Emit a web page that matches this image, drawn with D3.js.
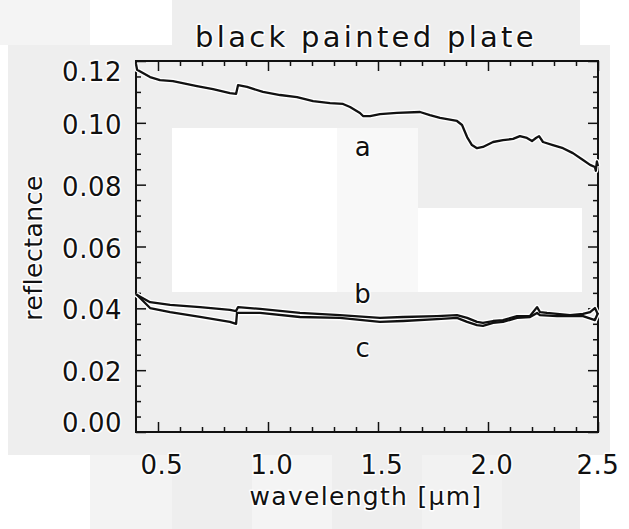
<!DOCTYPE html>
<html><head><meta charset="utf-8">
<script src="https://cdn.jsdelivr.net/npm/d3@7"></script>
<style>
html,body{margin:0;padding:0;background:#fff;}
svg{display:block;}
text{font-family:"DejaVu Sans",sans-serif;fill:#111;}
</style></head>
<body>
<script>
// ---- data ----
const title = "black painted plate";
const xLabel = "wavelength [\u03bcm]";
const yLabel = "reflectance";
const xTicks = [0.5, 1.0, 1.5, 2.0, 2.5];
const xTickLabels = ["0.5", "1.0", "1.5", "2.0", "2.5"];
const yTicks = [0.00, 0.02, 0.04, 0.06, 0.08, 0.10, 0.12];
const yTickLabels = ["0.00", "0.02", "0.04", "0.06", "0.08", "0.10", "0.12"];
const seriesNames = ["a", "b", "c"];
const labelPos = [[1.43, 0.0893], [1.43, 0.0417], [1.43, 0.0243]]; // wavelength, reflectance of curve tags (baseline)

const waveA = [0.40,0.405,0.464,0.509,0.568,0.677,0.750,0.827,0.855,0.864,0.905,0.977,1.055,1.132,1.205,1.282,1.341,1.373,1.418,1.432,1.464,1.509,1.586,1.691,1.736,1.782,1.859,1.882,1.905,1.927,1.950,1.977,2.023,2.068,2.114,2.145,2.177,2.200,2.218,2.232,2.250,2.295,2.341,2.386,2.432,2.464,2.486,2.490,2.495,2.50];
const reflA = [0.1190,0.1172,0.1148,0.1138,0.1135,0.1119,0.1109,0.1096,0.1094,0.1122,0.1116,0.1100,0.1090,0.1083,0.1070,0.1064,0.1061,0.1051,0.1032,0.1022,0.1022,0.1028,0.1032,0.1035,0.1025,0.1016,0.1006,0.0993,0.0954,0.0928,0.0918,0.0922,0.0938,0.0944,0.0948,0.0957,0.0951,0.0941,0.0951,0.0957,0.0938,0.0928,0.0918,0.0902,0.0880,0.0864,0.0857,0.0845,0.0875,0.0860];

const waveB = [0.40,0.405,0.464,0.555,0.691,0.827,0.855,0.864,0.964,1.145,1.327,1.509,1.614,1.768,1.859,1.905,1.950,1.977,2.023,2.068,2.132,2.191,2.223,2.236,2.268,2.314,2.373,2.432,2.464,2.486,2.50];
const reflB = [0.0446,0.0443,0.0420,0.0411,0.0404,0.0395,0.0391,0.0404,0.0398,0.0385,0.0378,0.0369,0.0372,0.0375,0.0378,0.0369,0.0356,0.0353,0.0359,0.0362,0.0375,0.0375,0.0404,0.0388,0.0385,0.0382,0.0378,0.0382,0.0388,0.0401,0.0380];

const waveC = [0.40,0.405,0.464,0.555,0.691,0.827,0.855,0.859,0.964,1.145,1.327,1.509,1.614,1.768,1.859,1.905,1.950,1.977,2.023,2.068,2.132,2.191,2.223,2.236,2.314,2.373,2.432,2.486,2.50];
const reflC = [0.0446,0.0443,0.0401,0.0388,0.0372,0.0356,0.0350,0.0385,0.0385,0.0372,0.0369,0.0356,0.0359,0.0365,0.0369,0.0356,0.0346,0.0343,0.0353,0.0356,0.0369,0.0372,0.0385,0.0378,0.0375,0.0375,0.0375,0.0362,0.0385];

// ---- layout ----
const W = 629, H = 529;
const L = 136, R = 598, T = 61, B = 432;

const svg = d3.select("body").append("svg").attr("width", W).attr("height", H);

// background (scan-like patches of the reference)
const bgBlocks = [
  [0,0,629,529,"#ffffff"],
  [8,45,602,410,"#eeeeee"],
  [0,0,90,45,"#f4f4f4"],
  [172,0,408,45,"#eeeeee"],
  [90,455,82,74,"#f3f3f3"],
  [172,455,80,74,"#eeeeee"],
  [252,455,80,74,"#f4f4f4"],
  [332,455,90,74,"#eeeeee"],
  [422,455,80,74,"#f2f2f2"],
  [502,455,78,74,"#eeeeee"],
  [172,128,165,164,"#ffffff"],
  [337,128,81,164,"#f8f8f8"],
  [418,208,164,84,"#ffffff"]
];
svg.selectAll("rect.bg").data(bgBlocks).join("rect").attr("class","bg")
  .attr("x", d => d[0]).attr("y", d => d[1]).attr("width", d => d[2]).attr("height", d => d[3])
  .attr("fill", d => d[4]);

const x = d3.scaleLinear().domain([0.4, 2.5]).range([L, R]);
const y = d3.scaleLinear().domain([0, 0.12]).range([B, T]);

const halo = sel => sel.attr("stroke", "#ffffff").attr("stroke-width", 3).attr("paint-order", "stroke").attr("stroke-linejoin", "round");

// axes with inward ticks (major + minor)
const xMinor = d3.range(0.5, 2.5001, 0.1).filter(v => Math.abs(v*2 - Math.round(v*2)) > 1e-6);
const yMinor = d3.range(0.005, 0.1200001, 0.005).filter(v => Math.abs(v/0.02 - Math.round(v/0.02)) > 1e-6);

function axisGroup(axisFn, tr) {
  const g = svg.append("g").attr("transform", tr).call(axisFn);
  g.selectAll("text").remove();
  g.select(".domain").remove();
  g.selectAll("line").attr("stroke", "#111").attr("stroke-width", 1.5);
  return g;
}
axisGroup(d3.axisBottom(x).tickValues(xTicks).tickSize(-10).tickFormat(""), `translate(0,${B})`);
axisGroup(d3.axisBottom(x).tickValues(xMinor).tickSize(-5).tickFormat(""), `translate(0,${B})`);
axisGroup(d3.axisTop(x).tickValues(xTicks).tickSize(-10).tickFormat(""), `translate(0,${T})`);
axisGroup(d3.axisTop(x).tickValues(xMinor).tickSize(-5).tickFormat(""), `translate(0,${T})`);
axisGroup(d3.axisLeft(y).tickValues(yTicks).tickSize(-10).tickFormat(""), `translate(${L},0)`);
axisGroup(d3.axisLeft(y).tickValues(yMinor).tickSize(-5).tickFormat(""), `translate(${L},0)`);
axisGroup(d3.axisRight(y).tickValues(yTicks).tickSize(-10).tickFormat(""), `translate(${R},0)`);
axisGroup(d3.axisRight(y).tickValues(yMinor).tickSize(-5).tickFormat(""), `translate(${R},0)`);

// frame
svg.append("rect").attr("x", L).attr("y", T).attr("width", R - L).attr("height", B - T)
  .attr("fill", "none").attr("stroke", "#111").attr("stroke-width", 2);

// curves
const line = d3.line().x(d => x(d[0])).y(d => y(d[1]));
const series = [d3.zip(waveA, reflA), d3.zip(waveB, reflB), d3.zip(waveC, reflC)];
svg.selectAll("path.halo").data(series).join("path").attr("class","halo")
  .attr("d", line).attr("fill", "none").attr("stroke", "#fff").attr("stroke-width", 5).attr("stroke-linejoin","round");
svg.selectAll("path.curve").data(series).join("path").attr("class","curve")
  .attr("d", line).attr("fill", "none").attr("stroke", "#111").attr("stroke-width", 2.3).attr("stroke-linejoin","round");

// curve tags
svg.selectAll("text.tag").data(seriesNames).join("text").attr("class","tag")
  .attr("x", (d,i) => x(labelPos[i][0])).attr("y", (d,i) => y(labelPos[i][1]))
  .attr("text-anchor","middle").attr("font-size", 26).text(d => d).call(halo);

// tick labels
svg.selectAll("text.ylab").data(yTicks).join("text").attr("class","ylab")
  .attr("x", 122).attr("y", d => Math.min(Math.max(y(d) + 11, T + 20), B - 0))
  .attr("text-anchor", "end").attr("font-size", 26).attr("letter-spacing", 0.5)
  .text((d,i) => yTickLabels[i]).call(halo);
svg.selectAll("text.xlab").data(xTicks).join("text").attr("class","xlab")
  .attr("x", d => Math.min(x(d) + 4, R)).attr("y", 474)
  .attr("text-anchor", "middle").attr("font-size", 26).attr("letter-spacing", 0.5)
  .text((d,i) => xTickLabels[i]).call(halo);

// titles
svg.append("text").attr("x", 366).attr("y", 47).attr("text-anchor","middle")
  .attr("font-size", 29).attr("letter-spacing", 3.3).text(title).call(halo);
svg.append("text").attr("x", 366).attr("y", 505).attr("text-anchor","middle")
  .attr("font-size", 25).attr("letter-spacing", 1.3).text(xLabel).call(halo);
svg.append("text").attr("transform", "translate(42,248) rotate(-90)").attr("text-anchor","middle")
  .attr("font-size", 25).attr("letter-spacing", 0.5).text(yLabel).call(halo);
</script>
</body></html>
